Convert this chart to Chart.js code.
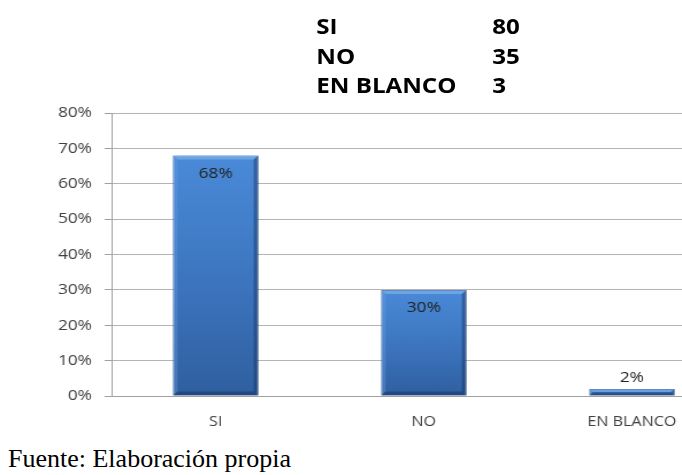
<!DOCTYPE html>
<html>
<head>
<meta charset="utf-8">
<script src="https://cdn.jsdelivr.net/npm/chart.js@4/dist/chart.umd.min.js"></script>
<style>
  html, body { margin: 0; padding: 0; background: #ffffff; width: 682px; height: 475px; overflow: hidden; }
  #stretch { position: absolute; left: 0; top: 0; width: 594px; height: 440px; overflow: hidden; transform: scaleX(1.15); transform-origin: 0 0; }
  canvas { position: absolute; left: 0; top: 0; }
  .tbl { position: absolute; font-family: "Open Sans", sans-serif; font-weight: bold; font-size: 21px; color: #000; line-height: 1; white-space: nowrap; }
  #caption { position: absolute; left: 8px; top: 446px; font-family: "Liberation Serif", "Times New Roman", serif; font-size: 26px; line-height: 1; color: #000; white-space: nowrap; }
</style>
</head>
<body>
<div id="stretch">
  <canvas id="c" width="644" height="440" style="width:644px;height:440px"></canvas>
  <div id="tbl"></div>
</div>
<div id="caption">Fuente: Elaboración propia</div>
<script>
// ---- data ----
const categories = ["SI", "NO", "EN BLANCO"];
const counts = [80, 35, 3];
const percents = [68, 30, 2];
const yTicks = [0, 10, 20, 30, 40, 50, 60, 70, 80];

// summary table at top (inside the horizontally stretched box)
const tbl = document.getElementById('tbl');
const rowTops = [16, 46, 75];
categories.forEach((c, i) => {
  const a = document.createElement('div');
  a.className = 'tbl'; a.textContent = c;
  a.style.left = '275px'; a.style.top = rowTops[i] + 'px';
  tbl.appendChild(a);
  const b = document.createElement('div');
  b.className = 'tbl'; b.textContent = String(counts[i]);
  b.style.left = '428px'; b.style.top = rowTops[i] + 'px';
  tbl.appendChild(b);
});

const labelFont = '"Open Sans", sans-serif';

const barGradient = (ctx) => {
  const chart = ctx.chart;
  const y = chart.scales && chart.scales.y;
  if (!y || ctx.dataIndex === undefined) return '#3d72b8';
  const top = y.getPixelForValue(ctx.raw);
  const bottom = y.getPixelForValue(0);
  if (!isFinite(top) || !isFinite(bottom) || bottom - top < 1) return '#3d72b8';
  const g = chart.ctx.createLinearGradient(0, top, 0, bottom);
  g.addColorStop(0, '#4a8ad8');
  g.addColorStop(0.5, '#3d76c0');
  g.addColorStop(1, '#2f5f9f');
  return g;
};

const bevelPlugin = {
  id: 'bevel',
  afterDatasetsDraw(chart) {
    const ctx = chart.ctx;
    const meta = chart.getDatasetMeta(0);
    ctx.save();
    meta.data.forEach((bar) => {
      const p = bar.getProps(['x', 'y', 'base', 'width'], true);
      const l = p.x - p.width / 2, r = p.x + p.width / 2, t = p.y, b = p.base;
      const h = b - t;
      const e = Math.min(4, h / 2);
      ctx.fillStyle = 'rgba(140,185,240,0.55)';
      ctx.beginPath();
      ctx.moveTo(l, t); ctx.lineTo(r, t); ctx.lineTo(r - e, t + e); ctx.lineTo(l + e, t + e); ctx.closePath(); ctx.fill();
      ctx.fillStyle = 'rgba(20,50,100,0.45)';
      ctx.beginPath();
      ctx.moveTo(r, t); ctx.lineTo(r, b); ctx.lineTo(r - e, b - e); ctx.lineTo(r - e, t + e); ctx.closePath(); ctx.fill();
      ctx.fillStyle = 'rgba(110,160,225,0.35)';
      ctx.beginPath();
      ctx.moveTo(l, t); ctx.lineTo(l, b); ctx.lineTo(l + e, b - e); ctx.lineTo(l + e, t + e); ctx.closePath(); ctx.fill();
      ctx.fillStyle = 'rgba(20,45,90,0.45)';
      ctx.beginPath();
      ctx.moveTo(l, b); ctx.lineTo(r, b); ctx.lineTo(r - e, b - e); ctx.lineTo(l + e, b - e); ctx.closePath(); ctx.fill();
    });
    ctx.restore();
  }
};

const valueLabelPlugin = {
  id: 'valueLabels',
  afterDatasetsDraw(chart) {
    const ctx = chart.ctx;
    const meta = chart.getDatasetMeta(0);
    ctx.save();
    ctx.font = '15px ' + labelFont;
    ctx.fillStyle = '#222222';
    ctx.textAlign = 'center';
    ctx.textBaseline = 'middle';
    meta.data.forEach((bar, i) => {
      const p = bar.getProps(['x', 'y', 'base'], true);
      const txt = percents[i] + '%';
      if (p.base - p.y > 30) ctx.fillText(txt, p.x, p.y + 18);
      else ctx.fillText(txt, p.x, p.y - 11);
    });
    ctx.restore();
  }
};

new Chart(document.getElementById('c'), {
  type: 'bar',
  data: {
    labels: categories,
    datasets: [{
      data: percents,
      backgroundColor: barGradient,
      borderColor: '#24528c',
      borderWidth: 1,
      barPercentage: 0.41,
      categoryPercentage: 1
    }]
  },
  options: {
    responsive: false,
    animation: false,
    devicePixelRatio: 1,
    layout: { padding: { top: 113, right: 4, left: 0, bottom: 0 } },
    plugins: { legend: { display: false }, tooltip: { enabled: false } },
    scales: {
      x: {
        grid: { display: false, drawTicks: false },
        border: { display: true, color: '#a0a0a0', width: 1 },
        ticks: { color: '#404040', font: { family: labelFont, size: 14 }, padding: 18, maxRotation: 0 },
        afterFit(scale) { scale.height = 44; }
      },
      y: {
        min: 0, max: 80,
        afterBuildTicks(scale) { scale.ticks = yTicks.map(v => ({ value: v })); },
        grid: { color: '#b4b4b4', tickLength: 6, tickColor: '#a0a0a0' },
        border: { display: true, color: '#a0a0a0', width: 1 },
        ticks: { color: '#404040', font: { family: labelFont, size: 15 }, padding: 11, callback: (v) => v + '%' },
        afterFit(scale) { scale.width = 97; }
      }
    }
  },
  plugins: [bevelPlugin, valueLabelPlugin]
});
</script>
</body>
</html>
